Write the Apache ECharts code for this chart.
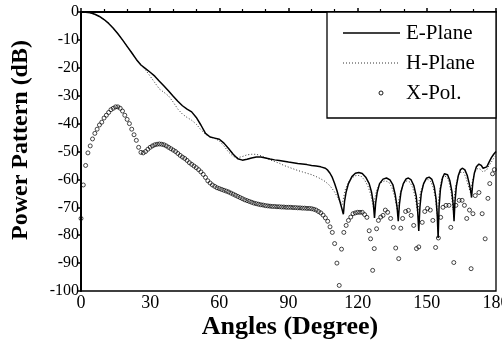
<!DOCTYPE html>
<html>
<head>
<meta charset="utf-8">
<script src="https://cdn.jsdelivr.net/npm/echarts@6/dist/echarts.min.js"></script>
<style>html,body{margin:0;padding:0;background:#fff}#c{width:502px;height:342px}</style>
</head>
<body>
<div id="c"></div>
<script>
// ---- data ----
var xTicks = [0, 30, 60, 90, 120, 150, 180];
var yTicks = [-100, -90, -80, -70, -60, -50, -40, -30, -20, -10, 0];

var eAngles = [0,2,4,6,8,10,12,14,16,18,20,22,24,26,28,30,32,34,36,38,40,42,44,46,48,50,52,54,56,58,60,62,64,66,68,70,72,74,76,78,80,82,84,86,88,90,92,94,96,98,100,102,104,106,107,108,109,110,111,112,113,113.8,
  114.3,115,116,117.5,119,120.5,122,123.5,125,126,126.8,127.3,
  127.8,128.5,129.5,131,132.5,134,135.3,136.3,137.1,137.6,
  138.1,138.8,139.8,141,142,143.2,144.4,145.4,146,146.5,
  147,147.6,148.6,149.8,151,152.2,153.2,154,154.5,154.9,
  155.3,155.9,156.8,157.6,158.2,159,160,160.9,161.4,161.8,
  162.2,162.8,163.7,164.6,165.5,166.5,167.5,168.4,169,169.4,
  169.9,170.6,171.5,172.6,173.6,174.4,175,176,177,178,179,180];
var eValues = [0,-0.1,-0.3,-0.8,-1.6,-2.7,-4.1,-5.8,-7.8,-10,-12.3,-14.6,-17,-19,-20.3,-21.6,-23,-24.8,-26.5,-28.3,-30.2,-32,-33.6,-34.8,-35.8,-37.8,-40.5,-43.5,-44.8,-45.2,-45.6,-47,-48.9,-51,-52.6,-53.1,-52.8,-52.3,-52,-52,-52.3,-52.7,-53,-53.2,-53.5,-53.8,-54,-54.3,-54.5,-54.7,-55,-55.2,-55.5,-56,-56.7,-57.8,-59.3,-61.5,-64,-67,-70,-72.5,
  -68,-64.5,-61.5,-59,-57.8,-57.5,-57.9,-59.2,-61.5,-64.5,-68.5,-73.8,
  -68.5,-64.5,-61.5,-59.9,-59.5,-60.2,-62,-65.5,-70,-75,
  -69,-64.5,-61.5,-59.8,-59.5,-60.2,-62.3,-66,-71,-78.5,
  -70,-65,-61.5,-59.6,-59.2,-60,-62.5,-67,-72.5,-81,
  -70,-63.5,-59.5,-58,-57.8,-58.3,-60.5,-64.5,-69,-75,
  -68,-62.5,-58.5,-56.5,-56,-56.6,-58.5,-61.5,-64,-66.5,
  -61.5,-57.8,-55.5,-54.5,-55,-56,-56.5,-55.5,-53.8,-52.2,-51,-50];

var hAngles = [0,2,4,6,8,10,12,14,16,18,20,22,24,26,28,30,32,34,36,38,40,42,44,46,48,50,52,54,56,58,60,62,64,66,68,70,72,74,76,78,80,82,84,86,88,90,92,94,96,98,100,102,104,106,108,110,111,112,113.3,
  113.9,114.7,116,117.5,119,120,121.5,123,124.5,125.7,126.8,
  127.4,128.2,129.3,130.7,132,133.5,134.8,136,137.2,
  137.8,138.6,139.6,140.6,141.5,142.7,143.9,145,146,
  146.6,147.3,148.3,149.4,150.5,151.7,152.8,153.8,154.5,
  155,155.6,156.4,157.1,157.8,158.7,159.7,160.6,161.4,
  161.9,162.6,163.5,164.3,165,166,167,168,169,
  169.6,170.4,171.3,172.3,173.3,174.2,174.8,175.8,177,178.2,179.2,180];
var hValues = [0,-0.1,-0.3,-0.8,-1.6,-2.7,-4.1,-5.8,-7.8,-10,-12.3,-14.6,-17,-19,-20.8,-23,-25.3,-27.6,-28.8,-30.1,-32.3,-34.8,-36.6,-37.8,-38.8,-40.2,-42.2,-43.8,-44.8,-45.3,-46.2,-48,-50.2,-51.8,-52.2,-51.8,-51.2,-51,-51,-51.5,-52.2,-53,-53.6,-54.2,-55,-55.6,-56.2,-56.8,-57.3,-57.8,-58.3,-59,-59.8,-60.8,-62.3,-64.5,-66,-67.5,-69,
  -66.5,-63.5,-61,-59.5,-58.7,-58.5,-58.9,-60.2,-62.5,-65.5,-70,
  -67,-64,-62,-60.8,-60.5,-61,-62.8,-66,-71,
  -67.5,-64.5,-62,-60.8,-60.5,-61,-63,-66.5,-72,
  -68,-64.5,-62,-60.4,-60,-60.8,-63,-67,-73,
  -68,-63.5,-60.2,-58.8,-58.5,-59,-61.2,-65,-71,
  -66,-62,-59,-57.5,-57,-57.5,-59.5,-62.3,-65,
  -61.5,-58.5,-56.6,-56,-56.4,-57.2,-57.5,-56.8,-55,-53.5,-52.2,-51.5];

var xAngles = [0,1,2,3,4,5,6,7,8,9,10,11,12,13,14,15,16,17,18,19,20,21,22,23,24,25,26,27,28,29,30,31,32,33,34,35,36,37,38,39,40,41,42,43,44,45,46,47,48,49,50,51,52,53,54,55,56,57,58,59,60,61,62,63,64,65,66,67,68,69,70,71,72,73,74,75,76,77,78,79,80,81,82,83,84,85,86,87,88,89,90,91,92,93,94,95,96,97,98,99,100,101,102,103,104,105,106,107,108,109,110,111,112,
  113,114,115,116,117,118,119,120,121,122,123,124,125,125.6,126.5,127.2,128.2,129,130,131,132,133,134.3,135.5,136.5,137.8,138.7,139.5,140.8,142,143.2,144.3,145.5,146.5,148,149.1,150.3,151.5,152.6,153.8,155,156,157,158.3,159.6,160.4,161.7,162.6,164,165.3,166.3,167.3,168.5,169.2,170,171,172.6,174,175.3,176.5,177.3,178.5,179.3];
var xValues = [-74,-62,-55,-50.5,-48,-45.5,-43.5,-42,-40.5,-39.5,-38,-37,-36,-35,-34.5,-34,-34,-34.5,-35.5,-37,-38.5,-40,-42,-44,-46,-48.5,-50.3,-50.5,-50,-49.2,-48.5,-48,-47.6,-47.4,-47.3,-47.4,-47.6,-48,-48.5,-49,-49.5,-50,-50.7,-51.4,-52,-52.5,-53.2,-54,-54.6,-55.2,-55.8,-56.5,-57.3,-58.2,-59.3,-60.5,-61.3,-62,-62.5,-63,-63.3,-63.6,-63.9,-64.2,-64.5,-64.9,-65.3,-65.7,-66.1,-66.5,-66.9,-67.3,-67.6,-67.9,-68.2,-68.5,-68.7,-68.9,-69.1,-69.2,-69.4,-69.5,-69.6,-69.7,-69.7,-69.8,-69.8,-69.9,-69.9,-70,-70,-70,-70.1,-70.1,-70.2,-70.2,-70.3,-70.3,-70.4,-70.4,-70.5,-70.7,-71,-71.5,-72,-72.8,-73.8,-75,-77,-79,-83,-90,-98,
  -85,-79,-76.5,-74.7,-73.5,-72.3,-72,-71.8,-71.8,-71.8,-72.6,-73.6,-78.4,-81.3,-92.6,-84.8,-77.7,-74.7,-73.5,-72.9,-71,-71.8,-74,-77.2,-84.6,-88.4,-77.5,-74,-71.5,-71.1,-72.9,-76.5,-84.8,-84.2,-75.4,-71.5,-70.4,-71,-74.7,-84.4,-81,-73.6,-70,-69.3,-69.3,-77.2,-89.8,-69.3,-67.5,-67.5,-69.3,-74,-71,-92,-72.3,-65.8,-64.7,-72.3,-81.3,-66.8,-61.5,-58,-56.5];

function zip(a, b) { var out = []; for (var i = 0; i < a.length; i++) out.push([a[i], b[i]]); return out; }

var serif = 'Liberation Serif, Times New Roman, serif';
var chart = echarts.init(document.getElementById('c'), null, {renderer: 'canvas'});
chart.setOption({
  animation: false,
  backgroundColor: '#fff',
  grid: {left: 81, right: 6, top: 12, bottom: 51, show: true, borderColor: '#000', borderWidth: 1.3, backgroundColor: 'transparent', containLabel: false, outerBoundsMode: 'none'},
  xAxis: {
    type: 'value', min: xTicks[0], max: xTicks[xTicks.length - 1], interval: 30,
    axisLine: {show: true, lineStyle: {color: '#000', width: 2}},
    axisTick: {show: true, inside: true, length: 4, lineStyle: {color: '#000', width: 1.5}},
    minorTick: {show: true, splitNumber: 3, length: 3, lineStyle: {color: '#000', width: 1.2}},
    axisLabel: {color: '#000', fontFamily: serif, fontSize: 18, margin: 3, showMaxLabel: true, showMinLabel: true, hideOverlap: false},
    splitLine: {show: false}
  },
  yAxis: {
    type: 'value', min: yTicks[0], max: yTicks[yTicks.length - 1], interval: 10,
    axisLine: {show: true, lineStyle: {color: '#000', width: 2}},
    axisTick: {show: true, inside: false, length: 4, lineStyle: {color: '#000', width: 1.5}},
    axisLabel: {color: '#000', fontFamily: serif, fontSize: 16, margin: 2, hideOverlap: false},
    splitLine: {show: false}
  },
  series: [
    {name: 'E-Plane', type: 'line', data: zip(eAngles, eValues), symbol: 'none', smooth: false,
     lineStyle: {color: '#000', width: 1.5}, z: 3},
    {name: 'H-Plane', type: 'line', data: zip(hAngles, hValues), symbol: 'none', smooth: false,
     lineStyle: {color: '#333', width: 1, type: [1, 2]}, z: 2},
    {name: 'X-Pol.', type: 'scatter', data: zip(xAngles, xValues), symbol: 'circle', symbolSize: 4,
     itemStyle: {color: 'rgba(255,255,255,0)', borderColor: '#000', borderWidth: 0.9}, z: 4}
  ],
  graphic: [
    {type: 'rect', shape: {x: 327, y: 12, width: 169, height: 106}, style: {fill: '#fff', stroke: '#000', lineWidth: 1.3}, z: 10},
    {type: 'line', shape: {x1: 343, y1: 33, x2: 400, y2: 33}, style: {stroke: '#000', lineWidth: 1.3}, z: 11},
    {type: 'line', shape: {x1: 343, y1: 63, x2: 400, y2: 63}, style: {stroke: '#333', lineWidth: 1, lineDash: [1, 2]}, z: 11},
    {type: 'circle', shape: {cx: 381, cy: 93, r: 2}, style: {fill: '#fff', stroke: '#000', lineWidth: 0.9}, z: 11},
    {type: 'text', x: 406, y: 33, style: {text: 'E-Plane', font: '21px ' + serif, fill: '#000', textVerticalAlign: 'middle', verticalAlign: 'middle'}, z: 11},
    {type: 'text', x: 406, y: 63, style: {text: 'H-Plane', font: '21px ' + serif, fill: '#000', textVerticalAlign: 'middle', verticalAlign: 'middle'}, z: 11},
    {type: 'text', x: 406, y: 93, style: {text: 'X-Pol.', font: '21px ' + serif, fill: '#000', textVerticalAlign: 'middle', verticalAlign: 'middle'}, z: 11},
    {type: 'text', x: 290, y: 327, style: {text: 'Angles (Degree)', font: 'bold 26px ' + serif, fill: '#000', align: 'center', textAlign: 'center', verticalAlign: 'middle', textVerticalAlign: 'middle'}, z: 11},
    {type: 'text', x: 21, y: 140, rotation: Math.PI / 2, style: {text: 'Power Pattern (dB)', font: 'bold 24px ' + serif, fill: '#000', align: 'center', textAlign: 'center', verticalAlign: 'middle', textVerticalAlign: 'middle'}, z: 11}
  ]
});
</script>
</body>
</html>
